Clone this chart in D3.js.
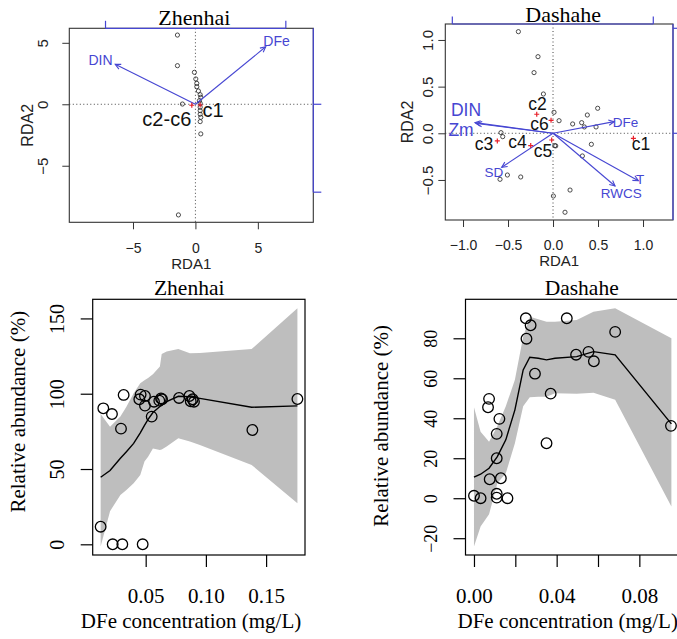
<!DOCTYPE html>
<html><head><meta charset="utf-8">
<script src="https://cdn.jsdelivr.net/npm/d3@7"></script>
<style>body{margin:0;background:#fff}</style>
</head><body><svg id="c" width="677" height="639" xmlns="http://www.w3.org/2000/svg"></svg>
<script>
// ---------------- DATA ----------------
// Zhenhai RDA: site scores
const zhSiteX = [-1.44,-1.44,-0.08,0.03,0.11,0.11,0.24,0.38,0.43,0.32,0.38,0.38,0.38,0.38,0.43,0.38,0.43,-1.04,-1.36];
const zhSiteY = [5.63,3.14,2.6,2.06,1.7,1.43,1.08,0.78,0.57,0.29,0.08,-0.24,-0.52,-0.81,-1.06,-1.41,-2.41,0.02,-9.0];
// Zhenhai RDA: environmental arrows
const zhEnvNames = ["DIN","DFe"];
const zhEnvX = [-6.42, 5.63];
const zhEnvY = [3.25, 4.68];
const zhEnvLabX = [-7.6, 6.5];
const zhEnvLabY = [3.58, 5.15];
// Zhenhai RDA: class centroids
const zhCentNames = ["c1","c2-c6"];
const zhCentX = [0.38,-0.29];
const zhCentY = [-0.06,-0.08];
const zhCentLabX = [1.42,-2.29];
const zhCentLabY = [-0.44,-1.2];
const zhRdaTicks = [-5,0,5];
const zhTopTicks = [-7.2, 7.24];
const zhRightTicks = [0, -7.15];

// Dashahe RDA: site scores
const daSiteX = [-0.385,-0.167,-0.211,-0.107,0.011,0.067,0.496,0.381,0.218,0.318,0.348,0.478,-0.578,-0.559,0.426,0.019,0.03,0.326,-0.507,-0.589,-0.359,0.189,0.004,0.133];
const daSiteY = [1.089,0.821,0.65,0.421,0.225,0.135,0.268,0.196,0.1,0.114,0.068,0.068,0.007,-0.036,-0.118,-0.132,-0.135,-0.243,-0.447,-0.493,-0.468,-0.608,-0.672,-0.846];
// Dashahe RDA: environmental arrows
const daEnvNames = ["DIN","Zm","DFe","SD","T","RWCS"];
const daEnvX = [-0.867,-0.85,0.678,-0.57,0.948,0.689];
const daEnvY = [0.114,0.105,0.125,-0.364,-0.508,-0.565];
const daEnvLabX = [-0.967,-1.022,0.806,-0.656,0.968,0.759];
const daEnvLabY = [0.245,0.035,0.121,-0.425,-0.49,-0.645];
const daEnvBig = [true,true,false,false,false,false];
// Dashahe RDA: class centroids
const daCentNames = ["c1","c2","c3","c4","c5","c6"];
const daCentX = [0.893,-0.181,-0.619,-0.248,-0.015,-0.022];
const daCentY = [-0.054,0.204,-0.082,-0.132,-0.072,0.139];
const daCentLabX = [0.978,-0.172,-0.767,-0.394,-0.111,-0.15];
const daCentLabY = [-0.115,0.318,-0.12,-0.088,-0.195,0.095];
const daRdaXTicks = [-1.0,-0.5,0.0,0.5,1.0];
const daRdaYTicks = [-0.5,0.0,0.5,1.0];
const daTopTicks = [-1.119, 1.114];
const daRightTicks = [1.125, 0];

// Zhenhai regression: observations
const zhObsX = [0.0126,0.0148,0.022,0.0295,0.0317,0.0226,0.0306,0.0475,0.0447,0.0458,0.0494,0.0494,0.055,0.0569,0.0613,0.0627,0.0636,0.0777,0.0863,0.0874,0.089,0.0901,0.1386,0.176];
const zhObsY = [11.7,90.3,86.5,76.8,99.2,0,0,0,96.3,99.4,98.5,92.1,84.8,94.7,95.4,96.9,96.3,97.2,98.5,95,96.3,94.7,75.9,96.5];
// Zhenhai regression: fitted curve and confidence band
const zhFitX  = [0.0126,0.0204,0.029,0.034,0.040,0.0455,0.049,0.052,0.056,0.0618,0.0633,0.0674,0.0771,0.0867,0.095,0.138,0.176];
const zhFitY  = [44.5,49,57.1,61.5,67,74,79,83,87.5,91.5,92.3,94.7,98.3,98,96.9,91,91.9];
const zhFitLo = [-1.5,22,32.8,36,40.5,46,55,58.2,63.7,62.6,63,65,70.4,68.2,66,52.7,27.2];
const zhFitHi = [86.5,78,84.8,91.4,100.3,107,109,110.5,113,118,126.4,128,129.7,126.8,127,129.7,156.7];
const zhXTicks = [0.05,0.10,0.15];
const zhYTicks = [0,50,100,150];

// Dashahe regression: observations
const daObsX = [0,0.0032,0.0073,0.0068,0.0076,0.011,0.011,0.011,0.011,0.0123,0.013,0.0162,0.0251,0.0274,0.0254,0.0295,0.0351,0.0371,0.0449,0.0494,0.0554,0.058,0.0683,0.0953];
const daObsY = [1.2,0,49.7,45.5,9.5,32.2,20,2.2,0.3,39.7,10,0,90,86.5,79.8,62.3,27.5,52.3,90,71.8,73.2,68.5,83.2,36.2];
// Dashahe regression: fitted curve and confidence band
const daFitX  = [0,0.0032,0.0073,0.0113,0.0154,0.0198,0.0238,0.027,0.0311,0.0351,0.0392,0.0497,0.0578,0.0683,0.0955];
const daFitY  = [10.5,12,15,20.8,29.2,44.2,64.2,70.5,70,69.2,70,70.8,73.3,71.7,37.2];
const daFitLo = [-24.2,-14.2,-8,7.5,12.5,27.5,46,50.5,50.8,50.8,52.5,52.2,52.8,49.2,-4.2];
const daFitHi = [45.5,33.3,28.3,36,46,59.2,80.8,90.8,89.5,88.3,88.3,89.2,93.3,95,80];
const daXTicks = [0,0.02,0.04,0.06,0.08];
const daXLabeled = [0,0.04,0.08];
const daYTicks = [-20,0,20,40,60,80];

// ---------------- DRAWING ----------------
const svg = d3.select("#c");
const SANS = "'Liberation Sans', Arial, sans-serif";
const SERIF = "'Liberation Serif', 'Times New Roman', serif";
const BLUE = "#4646d2";

function drawRDA(cfg){
  const xs = cfg.xs, ys = cfg.ys;
  const [X0,X1] = xs.range(), [Y1,Y0] = ys.range();
  const g = svg.append("g");
  g.append("line").attr("x1",X0).attr("x2",X1).attr("y1",ys(0)).attr("y2",ys(0))
    .attr("stroke","#444").attr("stroke-width",1).attr("stroke-dasharray","1,2.5");
  g.append("line").attr("y1",Y0).attr("y2",Y1).attr("x1",xs(0)).attr("x2",xs(0))
    .attr("stroke","#444").attr("stroke-width",1).attr("stroke-dasharray","1,2.5");
  g.selectAll("circle.s").data(d3.range(cfg.siteX.length)).join("circle")
    .attr("cx",i=>xs(cfg.siteX[i])).attr("cy",i=>ys(cfg.siteY[i])).attr("r",2.1)
    .attr("fill","none").attr("stroke","#222").attr("stroke-width",0.8);
  const ag = g.append("g").attr("stroke",BLUE).attr("fill","none").attr("stroke-width",1.1);
  cfg.envX.forEach((ex,i)=>{
    const x0=xs(0),y0=ys(0),x1=xs(ex),y1=ys(cfg.envY[i]);
    ag.append("line").attr("x1",x0).attr("y1",y0).attr("x2",x1).attr("y2",y1);
    const a=Math.atan2(y1-y0,x1-x0), L=6, w=0.45;
    ag.append("path").attr("d",`M${x1-L*Math.cos(a-w)},${y1-L*Math.sin(a-w)}L${x1},${y1}L${x1-L*Math.cos(a+w)},${y1-L*Math.sin(a+w)}`);
  });
  cfg.envNames.forEach((n,i)=>{
    g.append("text").attr("x",xs(cfg.envLabX[i])).attr("y",ys(cfg.envLabY[i]))
      .attr("text-anchor","middle").attr("dominant-baseline","central")
      .attr("font-family",SANS).attr("font-size",cfg.envBig && cfg.envBig[i]?17.5:(cfg.envSmall||14))
      .attr("fill",BLUE).text(n);
  });
  cfg.centX.forEach((cx,i)=>{
    const px=xs(cx),py=ys(cfg.centY[i]);
    g.append("path").attr("d",`M${px-2.5},${py}h5M${px},${py-2.5}v5`).attr("stroke","#e8202a").attr("stroke-width",1.2);
  });
  cfg.centNames.forEach((n,i)=>{
    g.append("text").attr("x",xs(cfg.centLabX[i])).attr("y",ys(cfg.centLabY[i]))
      .attr("text-anchor","middle").attr("dominant-baseline","central")
      .attr("font-family",SANS).attr("font-size",cfg.centSize).attr("fill","#111").text(n);
  });
  g.append("rect").attr("x",X0).attr("y",Y0).attr("width",X1-X0).attr("height",Y1-Y0)
    .attr("fill","none").attr("stroke","#333").attr("stroke-width",1.1);
  const tt = cfg.topTicks.map(xs), rt = cfg.rightTicks.map(ys);
  g.append("line").attr("x1",d3.min(tt)).attr("x2",d3.max(tt)).attr("y1",Y0).attr("y2",Y0).attr("stroke",BLUE).attr("stroke-width",1.2);
  tt.forEach(t=>g.append("line").attr("x1",t).attr("x2",t).attr("y1",Y0).attr("y2",Y0-7.5).attr("stroke",BLUE).attr("stroke-width",1.2));
  g.append("line").attr("x1",X1).attr("x2",X1).attr("y1",Y0).attr("y2",cfg.rightLineEnd).attr("stroke",BLUE).attr("stroke-width",1.2);
  rt.forEach(t=>g.append("line").attr("y1",t).attr("y2",t).attr("x1",X1).attr("x2",X1+8).attr("stroke",BLUE).attr("stroke-width",1.2));
  const ax = g.append("g").attr("transform",`translate(0,${Y1})`)
    .call(d3.axisBottom(xs).tickValues(cfg.xTicks).tickSize(7).tickFormat(cfg.xFmt));
  ax.select(".domain").remove();
  ax.selectAll("line").attr("stroke","#333");
  ax.selectAll("text").attr("y",cfg.xLabOff).attr("dy",null).attr("font-family",SANS).attr("font-size",14).attr("fill","#222");
  const ay = g.append("g").attr("transform",`translate(${X0},0)`)
    .call(d3.axisLeft(ys).tickValues(cfg.yTicks).tickSize(7).tickFormat(cfg.yFmt));
  ay.select(".domain").remove();
  ay.selectAll("line").attr("stroke","#333");
  ay.selectAll("text").attr("x",null).attr("dy",null).attr("text-anchor","middle")
    .attr("transform",`translate(${-cfg.yLabOff},0) rotate(-90)`)
    .attr("font-family",SANS).attr("font-size",15).attr("fill","#222");
  g.append("text").attr("x",(X0+X1)/2).attr("y",cfg.xTitleY).attr("text-anchor","middle")
    .attr("font-family",SANS).attr("font-size",15).attr("fill","#222").text("RDA1");
  g.append("text").attr("transform",`translate(${cfg.yTitleX},${(Y0+Y1)/2}) rotate(-90)`).attr("text-anchor","middle")
    .attr("font-family",SANS).attr("font-size",16).attr("fill","#222").text("RDA2");
  g.append("text").attr("x",(X0+X1)/2+cfg.titleDx).attr("y",cfg.titleY).attr("text-anchor","middle")
    .attr("font-family",SERIF).attr("font-size",22).attr("fill","#000").text(cfg.title);
}

function drawFit(cfg){
  const xs = cfg.xs, ys = cfg.ys;
  const [X0,X1] = xs.range(), [Y1,Y0] = ys.range();
  const g = svg.append("g");
  const rows = cfg.fitX.map((x,i)=>({x, y:cfg.fitY[i], lo:cfg.fitLo[i], hi:cfg.fitHi[i]}));
  g.append("path").datum(rows).attr("fill","#bebebe")
    .attr("d",d3.area().x(d=>xs(d.x)).y0(d=>ys(d.lo)).y1(d=>ys(d.hi)));
  g.append("path").datum(rows).attr("fill","none").attr("stroke","#000").attr("stroke-width",1.4)
    .attr("d",d3.line().x(d=>xs(d.x)).y(d=>ys(d.y)));
  g.selectAll("circle").data(d3.range(cfg.obsX.length)).join("circle")
    .attr("cx",i=>xs(cfg.obsX[i])).attr("cy",i=>ys(cfg.obsY[i])).attr("r",5.3)
    .attr("fill","none").attr("stroke","#000").attr("stroke-width",1.3);
  g.append("rect").attr("x",X0).attr("y",Y0).attr("width",X1-X0).attr("height",Y1-Y0)
    .attr("fill","none").attr("stroke","#000").attr("stroke-width",1.2);
  const ax = g.append("g").attr("transform",`translate(0,${Y1})`)
    .call(d3.axisBottom(xs).tickValues(cfg.xTicks).tickSize(12).tickFormat(cfg.xFmt));
  ax.select(".domain").remove();
  ax.selectAll("line").attr("stroke","#000").attr("stroke-width",1.2);
  ax.selectAll("text").attr("y",48).attr("dy",null).attr("font-family",SERIF).attr("font-size",21).attr("fill","#000");
  const ay = g.append("g").attr("transform",`translate(${X0},0)`)
    .call(d3.axisLeft(ys).tickValues(cfg.yTicks).tickSize(12).tickFormat(d3.format("d")));
  ay.select(".domain").remove();
  ay.selectAll("line").attr("stroke","#000").attr("stroke-width",1.2);
  ay.selectAll("text").attr("x",null).attr("dy",null).attr("text-anchor","middle")
    .attr("transform","translate(-28.5,0) rotate(-90)")
    .attr("font-family",SERIF).attr("font-size",cfg.yTickSize).attr("fill","#000");
  g.append("text").attr("x",cfg.xTitleX).attr("y",628).attr("text-anchor","middle")
    .attr("font-family",SERIF).attr("font-size",21).attr("fill","#000").text("DFe concentration (mg/L)");
  g.append("text").attr("transform",`translate(${cfg.yTitleX},${cfg.yTitleY}) rotate(-90)`).attr("text-anchor","middle")
    .attr("font-family",SERIF).attr("font-size",21).attr("fill","#000").text("Relative abundance (%)");
  g.append("text").attr("x",cfg.titleX).attr("y",295).attr("text-anchor","middle")
    .attr("font-family",SERIF).attr("font-size",21.5).attr("fill","#000").text(cfg.title);
}

drawRDA({
  xs: d3.scaleLinear().domain([-10.1, 9.44]).range([69.3, 313.3]),
  ys: d3.scaleLinear().domain([-9.6, 6.18]).range([222.3, 28.3]),
  siteX: zhSiteX, siteY: zhSiteY,
  envNames: zhEnvNames, envX: zhEnvX, envY: zhEnvY, envLabX: zhEnvLabX, envLabY: zhEnvLabY,
  centNames: zhCentNames, centX: zhCentX, centY: zhCentY, centLabX: zhCentLabX, centLabY: zhCentLabY, centSize: 20,
  topTicks: zhTopTicks, rightTicks: zhRightTicks, rightLineEnd: 192.3,
  xTicks: zhRdaTicks, yTicks: zhRdaTicks, xFmt: d3.format("d"), yFmt: d3.format("d"),
  xLabOff: 31, yLabOff: 21, xTitleY: 269, yTitleX: 33, titleY: 25, titleDx: 3, title: "Zhenhai"
});
drawRDA({
  xs: d3.scaleLinear().domain([-1.197, 1.333]).range([445.3, 673]),
  ys: d3.scaleLinear().domain([-0.929, 1.171]).range([220, 24]),
  siteX: daSiteX, siteY: daSiteY,
  envNames: daEnvNames, envX: daEnvX, envY: daEnvY, envLabX: daEnvLabX, envLabY: daEnvLabY, envBig: daEnvBig, envSmall: 13.5,
  centNames: daCentNames, centX: daCentX, centY: daCentY, centLabX: daCentLabX, centLabY: daCentLabY, centSize: 17.5,
  topTicks: daTopTicks, rightTicks: daRightTicks, rightLineEnd: 220,
  xTicks: daRdaXTicks, yTicks: daRdaYTicks, xFmt: d3.format(".1f"), yFmt: d3.format(".1f"),
  xLabOff: 30, yLabOff: 12, xTitleY: 266, yTitleX: 413, titleY: 21.7, titleDx: 4, title: "Dashahe"
});
drawFit({
  xs: d3.scaleLinear().domain([0.006, 0.1823]).range([92.7, 305]),
  ys: d3.scaleLinear().domain([-7.1, 162.7]).range([555, 299.3]),
  fitX: zhFitX, fitY: zhFitY, fitLo: zhFitLo, fitHi: zhFitHi, obsX: zhObsX, obsY: zhObsY,
  xTicks: zhXTicks, yTicks: zhYTicks, xFmt: d3.format(".2f"), yTickSize: 20,
  xTitleX: 191, yTitleX: 25, yTitleY: 411.7, titleX: 189.2, title: "Zhenhai"
});
drawFit({
  xs: d3.scaleLinear().domain([-0.0041, 0.0987]).range([465.5, 678]),
  ys: d3.scaleLinear().domain([-28.4, 99.5]).range([555, 299.3]),
  fitX: daFitX, fitY: daFitY, fitLo: daFitLo, fitHi: daFitHi, obsX: daObsX, obsY: daObsY,
  xTicks: daXTicks, yTicks: daYTicks,
  xFmt: d => daXLabeled.some(v=>Math.abs(v-d)<1e-9) ? d3.format(".2f")(d) : "", yTickSize: 18,
  xTitleX: 567.7, yTitleX: 388, yTitleY: 425.8, titleX: 581.7, title: "Dashahe"
});
</script></body></html>
